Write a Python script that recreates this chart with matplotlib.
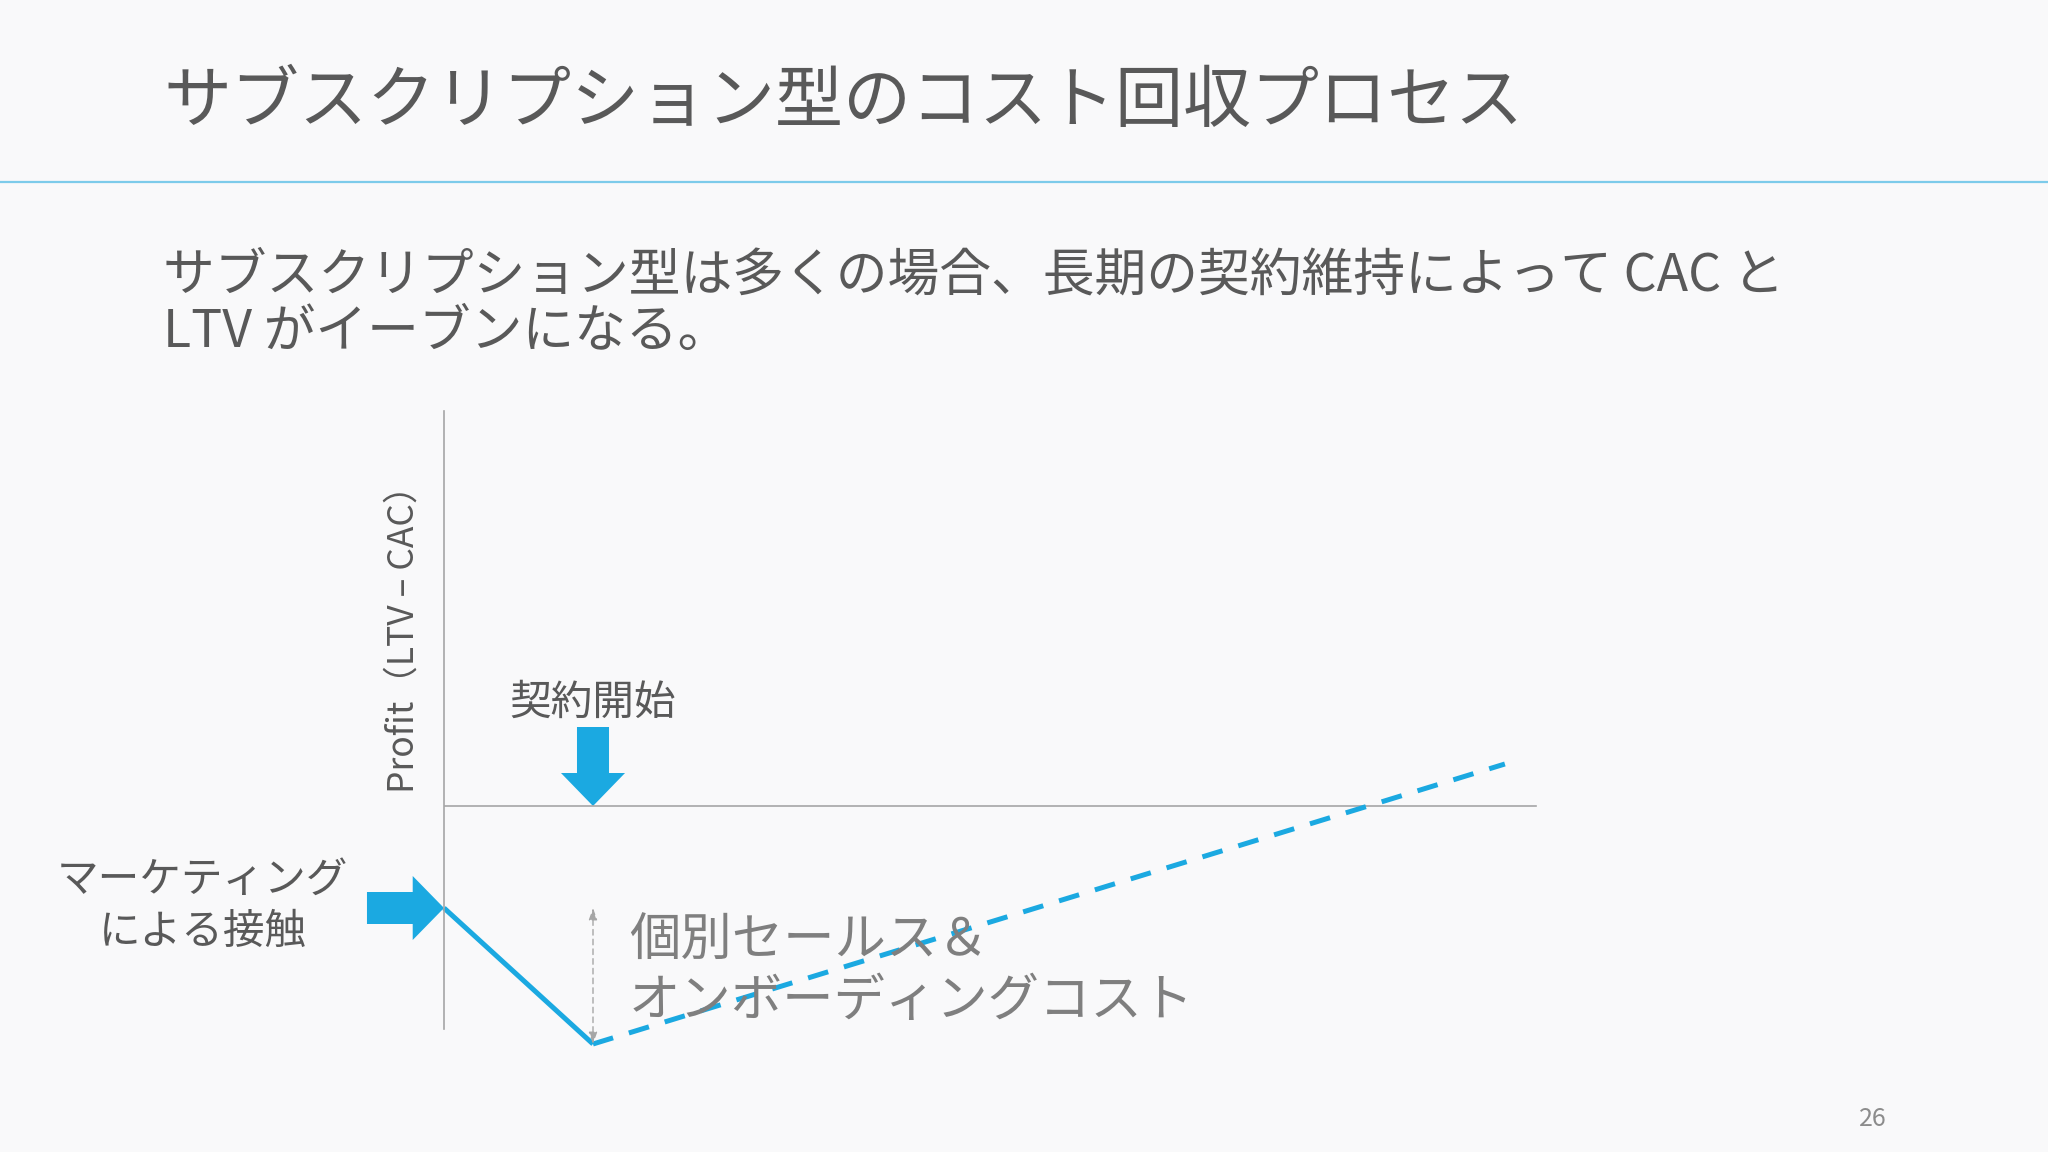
import matplotlib.pyplot as plt

plt.rcParams['font.family'] = ['Noto Sans CJK JP', 'DejaVu Sans']

# ---- data ----
title = "サブスクリプション型のコスト回収プロセス"
subtitle = ["サブスクリプション型は多くの場合、長期の契約維持によって CAC と",
            "LTV がイーブンになる。"]
stage_x = [0, 1]            # marketing contact, contract start
profit_solid = [-1.02, -2.38]
recovery_x = [1, 7.12]
profit_dashed = [-2.38, 0.42]
zero_line_end = 7.33
ylabel = "Profit（LTV – CAC）"
start_label = "契約開始"
marketing_label = ["マーケティング", "による接触"]
cost_label = ["個別セールス＆", "オンボーディングコスト"]
page_no = "26"

BLUE = '#1BA9E1'
GRAY = '#A6A6A6'
TEXT = '#595959'
W, H = 2048, 1152

fig = plt.figure(figsize=(20.48, 11.52), dpi=100)
fig.patch.set_facecolor('#F9F9FA')

# header
fig.text(163 / W, 1 - 103 / H, title, fontsize=49, color=TEXT, va='center')
fig.add_artist(plt.Line2D([0, 1], [1 - 182 / H, 1 - 182 / H], color='#7DCBEA', lw=1.6))
fig.text(163 / W, 1 - 276 / H, subtitle[0], fontsize=37.3, color=TEXT, va='center')
fig.text(163 / W, 1 - 332 / H, subtitle[1], fontsize=37.3, color=TEXT, va='center')
fig.text(1873 / W, 1 - 1119 / H, page_no, fontsize=18, color='#8C8C8C', ha='center', va='center')

# chart
ax = fig.add_axes([444 / W, 52 / H, 1200 / W, 700 / H])
ax.set_facecolor('none')
ax.set_xlim(0, 1200 / 149)
ax.set_ylim(-2.94, 4.06)
for s in ['top', 'right', 'bottom']:
    ax.spines[s].set_visible(False)
ax.spines['left'].set_bounds(-2.23, 3.95)
ax.spines['left'].set_color(GRAY)
ax.spines['left'].set_linewidth(1.2)
ax.set_xticks([])
ax.set_yticks([])

ax.plot([0, zero_line_end], [0, 0], color=GRAY, lw=1.2)
ax.plot(stage_x, profit_solid, color=BLUE, lw=3.6, solid_capstyle='butt', clip_on=False)
ax.plot(recovery_x, profit_dashed, color=BLUE, lw=3.6, dashes=(4.2, 3.3), clip_on=False)

# contract start arrow
ax.arrow(stage_x[1], 0.79, 0, -0.79, width=0.215, head_width=0.43, head_length=0.33,
         length_includes_head=True, color=BLUE, lw=0)
ax.text(stage_x[1], 1.03, start_label, fontsize=30, color=TEXT, ha='center', va='center')

# marketing arrow
ax.arrow(-0.517, profit_solid[0], 0.517, 0, width=0.32, head_width=0.64, head_length=0.21,
         length_includes_head=True, color=BLUE, lw=0, clip_on=False)
ax.text(-1.62, -0.74, marketing_label[0], fontsize=30, color=TEXT, ha='center', va='center')
ax.text(-1.62, -1.26, marketing_label[1], fontsize=30, color=TEXT, ha='center', va='center')

# cost bracket
ax.annotate('', xy=(stage_x[1], profit_solid[1]), xytext=(stage_x[1], profit_solid[0]),
            arrowprops=dict(arrowstyle='<|-|>,head_length=0.7,head_width=0.25',
                            color=GRAY, lw=1.0, linestyle=(0, (4, 3)),
                            shrinkA=0, shrinkB=0))
ax.text(1.24, -1.355, cost_label[0], fontsize=37, color='#7F7F7F', ha='left', va='center')
ax.text(1.24, -1.955, cost_label[1], fontsize=37, color='#7F7F7F', ha='left', va='center')

ax.text(-0.27, 1.76, ylabel, fontsize=25.5, color=TEXT, rotation=90, ha='center', va='center')

fig.savefig('out.png', dpi=100, facecolor=fig.get_facecolor())
